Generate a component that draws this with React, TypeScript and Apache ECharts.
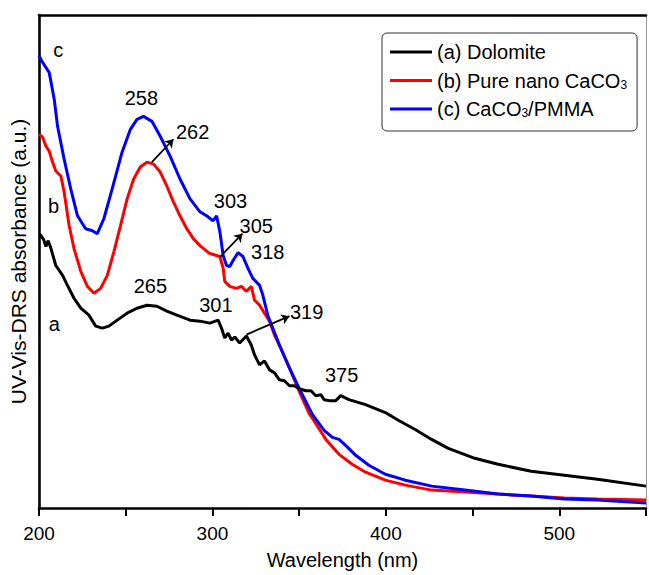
import React, { useEffect, useRef } from "react";
import * as echarts from "echarts";

// ---- data (wavelength in nm, absorbance in a.u.) ----
const WL_A = [200, 201.1, 202.7, 204.0, 205.3, 206.9, 209.7, 213.6, 216.4, 220.2, 224.1, 228.8, 232.7, 236.5, 240.3, 245.1, 250.8, 256.5, 262.3, 268.0, 273.7, 279.5, 287.1, 292.8, 298.5, 303.3, 305.2, 307.1, 309.0, 311.0, 312.9, 315.7, 319.6, 322.4, 324.3, 327.2, 330.0, 332.9, 335.8, 338.6, 341.5, 344.4, 347.2, 350.1, 353.9, 356.8, 359.6, 362.5, 364.4, 367.3, 371.1, 374.0, 378.7, 388.3, 399.7, 407.4, 416.9, 426.4, 436.0, 451.3, 464.7, 483.8, 502.9, 522.0, 550];
const ABS_A = [2.76, 2.74, 2.70, 2.63, 2.69, 2.61, 2.44, 2.34, 2.24, 2.11, 2.01, 1.94, 1.83, 1.81, 1.83, 1.89, 1.96, 2.01, 2.04, 2.03, 1.98, 1.94, 1.89, 1.88, 1.86, 1.89, 1.81, 1.71, 1.76, 1.69, 1.72, 1.66, 1.73, 1.64, 1.54, 1.44, 1.48, 1.39, 1.36, 1.29, 1.28, 1.23, 1.23, 1.20, 1.18, 1.18, 1.13, 1.14, 1.09, 1.08, 1.08, 1.13, 1.09, 1.04, 0.96, 0.88, 0.79, 0.69, 0.60, 0.50, 0.44, 0.37, 0.33, 0.29, 0.22];

const WL_B = [200, 202.1, 204.0, 205.9, 207.8, 209.7, 212.6, 214.5, 217.4, 220.2, 224.1, 227.9, 231.7, 235.5, 239.4, 243.2, 247.0, 250.8, 254.6, 258.4, 262.3, 266.1, 269.9, 273.7, 277.5, 281.3, 285.2, 289.0, 292.8, 298.5, 304.3, 306.2, 307.1, 310.0, 313.8, 316.7, 319.6, 322.4, 324.3, 327.2, 330.0, 332.9, 335.8, 338.6, 344.4, 350.1, 355.8, 357.7, 365.4, 373.0, 380.6, 388.3, 399.7, 411.2, 426.4, 445.6, 464.7, 483.8, 502.9, 522.0, 550];
const ABS_B = [3.76, 3.73, 3.64, 3.59, 3.48, 3.39, 3.34, 3.18, 2.84, 2.61, 2.38, 2.23, 2.16, 2.21, 2.34, 2.58, 2.84, 3.11, 3.31, 3.43, 3.48, 3.46, 3.38, 3.24, 3.08, 2.94, 2.81, 2.71, 2.64, 2.56, 2.53, 2.41, 2.28, 2.23, 2.21, 2.23, 2.18, 2.23, 2.09, 2.04, 1.96, 1.88, 1.74, 1.64, 1.41, 1.17, 0.95, 0.90, 0.69, 0.54, 0.44, 0.36, 0.28, 0.23, 0.18, 0.16, 0.14, 0.12, 0.10, 0.09, 0.08];

const WL_C = [200, 201.5, 205.9, 208.8, 210.7, 214.5, 218.3, 222.2, 226.9, 230.8, 233.6, 237.4, 242.2, 247.9, 252.7, 256.5, 260.3, 265.1, 269.9, 275.6, 281.3, 287.1, 292.8, 296.6, 300.4, 302.4, 304.3, 306.2, 308.1, 310.0, 311.9, 314.8, 317.6, 320.5, 323.3, 327.2, 329.1, 331.9, 334.8, 338.6, 344.4, 350.1, 357.7, 364.4, 369.2, 373.0, 376.8, 382.6, 390.2, 399.7, 411.2, 426.4, 445.6, 464.7, 483.8, 502.9, 522.0, 550];
const ABS_C = [4.55, 4.50, 4.38, 4.11, 3.84, 3.51, 3.21, 2.94, 2.81, 2.79, 2.76, 2.91, 3.21, 3.58, 3.81, 3.91, 3.94, 3.89, 3.74, 3.54, 3.31, 3.11, 2.98, 2.94, 2.89, 2.94, 2.78, 2.54, 2.44, 2.43, 2.49, 2.57, 2.53, 2.41, 2.31, 2.24, 2.14, 1.94, 1.81, 1.64, 1.41, 1.20, 0.94, 0.78, 0.71, 0.69, 0.63, 0.53, 0.43, 0.34, 0.28, 0.22, 0.18, 0.14, 0.12, 0.09, 0.08, 0.05];

const SERIES_NAMES = ["(a) Dolomite", "(b) Pure nano CaCO3", "(c) CaCO3/PMMA"];
const SERIES_COLORS = ["#000000", "#ff0000", "#0000ff"];

// peak annotations
const LABEL_TEXTS = ["c", "b", "a", "258", "262", "265", "303", "305", "318", "301", "319", "375"];
const LABEL_WL = [211.1, 208.4, 208.8, 259.0, 288.6, 264.2, 310.4, 325.3, 331.9, 302.0, 354.3, 374.5];
const LABEL_ABS = [4.61, 3.04, 1.85, 4.12, 3.78, 2.23, 3.09, 2.84, 2.58, 2.04, 1.97, 1.34];

// arrows (from curve to label)
const ARROW_FROM_WL = [265.1, 304.6, 319.6];
const ARROW_FROM_ABS = [3.48, 2.53, 1.745];
const ARROW_TO_WL = [277.5, 317.3, 344.4];
const ARROW_TO_ABS = [3.71, 2.76, 1.93];

const X_MIN = 200;
const X_MAX = 550;
const Y_MIN = 0;
const Y_MAX = 4.96;

const FONT = '"Liberation Sans", Arial, Helvetica, sans-serif';

const zip = (xs: number[], ys: number[]) => xs.map((x, i) => [x, ys[i]]);

export default function App() {
  const ref = useRef<HTMLDivElement>(null);

  useEffect(() => {
    if (!ref.current) return;
    const chart = echarts.init(ref.current, undefined, { renderer: "svg" });

    const datasets = [zip(WL_A, ABS_A), zip(WL_B, ABS_B), zip(WL_C, ABS_C)];
    const zOrder = [5, 3, 4];

    const arrows = ARROW_FROM_WL.map((_, i) => [
      { coord: [ARROW_FROM_WL[i], ARROW_FROM_ABS[i]] },
      { coord: [ARROW_TO_WL[i], ARROW_TO_ABS[i]] },
    ]);

    const series: any[] = SERIES_NAMES.map((name, i) => ({
      name,
      type: "line",
      data: datasets[i],
      symbol: "none",
      showSymbol: false,
      smooth: false,
      z: zOrder[i],
      color: SERIES_COLORS[i],
      lineStyle: { color: SERIES_COLORS[i], width: 3 },
      emphasis: { disabled: true },
      ...(i === 0
        ? {
            markLine: {
              silent: true,
              symbol: ["none", "arrow"],
              symbolSize: 8,
              label: { show: false },
              lineStyle: { color: "#000", width: 1.8, type: "solid" },
              emphasis: { disabled: true },
              data: arrows,
            },
          }
        : {}),
    }));

    chart.setOption({
      animation: false,
      backgroundColor: "#ffffff",
      textStyle: { fontFamily: FONT },
      grid: { left: 38, right: 1, top: 15, bottom: 64, containLabel: false },
      legend: {
        orient: "vertical",
        left: 382,
        top: 33,
        icon: "rect",
        itemWidth: 42,
        itemHeight: 3,
        itemGap: 8.5,
        padding: [9, 10, 12, 8],
        backgroundColor: "#ffffff",
        borderColor: "#333333",
        borderWidth: 1,
        borderRadius: 5,
        selectedMode: false,
        data: SERIES_NAMES,
        formatter: (name: string) => name.replace("CaCO3", "CaCO{sub|3}"),
        textStyle: {
          fontSize: 20,
          fontFamily: FONT,
          color: "#000",
          lineHeight: 20,
          rich: {
            sub: { fontSize: 12, fontFamily: FONT, color: "#000", verticalAlign: "bottom", lineHeight: 8 },
          },
        },
      },
      xAxis: [
        {
          type: "value",
          min: X_MIN,
          max: X_MAX,
          interval: 50,
          position: "bottom",
          name: "Wavelength (nm)",
          nameLocation: "middle",
          nameGap: 42,
          nameTextStyle: { fontSize: 20, color: "#000", fontFamily: FONT },
          axisLine: { show: true, onZero: false, lineStyle: { color: "#000", width: 2.6 } },
          axisTick: { show: true, inside: false, length: 8, lineStyle: { color: "#000", width: 2 } },
          axisLabel: {
            show: true,
            margin: 16,
            fontSize: 19,
            color: "#000",
            fontFamily: FONT,
            formatter: (v: number) => (v % 100 === 0 ? String(v) : ""),
          },
          splitLine: { show: false },
        },
        {
          type: "value",
          min: X_MIN,
          max: X_MAX,
          position: "top",
          axisLine: { show: true, onZero: false, lineStyle: { color: "#000", width: 2.6 } },
          axisTick: { show: false },
          axisLabel: { show: false },
          splitLine: { show: false },
        },
      ],
      yAxis: [
        {
          type: "value",
          min: Y_MIN,
          max: Y_MAX,
          position: "left",
          name: "UV-Vis-DRS absorbance (a.u.)",
          nameLocation: "middle",
          nameGap: 10,
          nameTextStyle: { fontSize: 21, color: "#000", fontFamily: FONT },
          axisLine: { show: true, onZero: false, lineStyle: { color: "#000", width: 2.6 } },
          axisTick: { show: false },
          axisLabel: { show: false },
          splitLine: { show: false },
        },
        {
          type: "value",
          min: Y_MIN,
          max: Y_MAX,
          position: "right",
          axisLine: { show: true, onZero: false, lineStyle: { color: "#9a9a9a", width: 1 } },
          axisTick: { show: false },
          axisLabel: { show: false },
          splitLine: { show: false },
        },
      ],
      series,
    });

    const texts = LABEL_TEXTS.map((t, i) => {
      const p = chart.convertToPixel({ xAxisIndex: 0, yAxisIndex: 0 }, [LABEL_WL[i], LABEL_ABS[i]]) as number[];
      return {
        type: "text",
        x: p[0],
        y: p[1],
        silent: true,
        z: 10,
        style: {
          text: t,
          fill: "#000",
          fontSize: 20,
          fontFamily: FONT,
          align: "center",
          verticalAlign: "middle",
        },
      };
    });
    chart.setOption({ graphic: texts });

    return () => chart.dispose();
  }, []);

  return (
    <div
      ref={ref}
      style={{ position: "absolute", left: 0, top: 0, width: 649, height: 575, background: "#fff" }}
    />
  );
}
